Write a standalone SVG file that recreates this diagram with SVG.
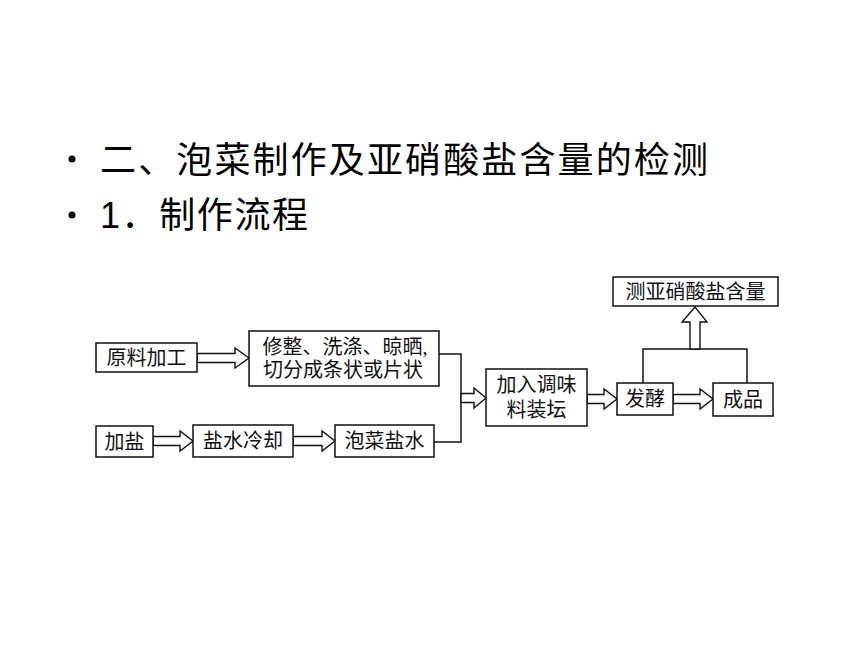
<svg xmlns="http://www.w3.org/2000/svg" width="860" height="645" viewBox="0 0 860 645">
<style>
.title{font-family:"Liberation Sans","Noto Sans CJK SC",sans-serif;font-size:36px;fill:#000}
.box{fill:#fff;stroke:#111;stroke-width:1.5}
.lbl{font-family:"Liberation Serif","Noto Sans CJK SC",serif;font-size:20px;fill:#111;text-anchor:middle;dominant-baseline:central}
.arr{fill:#fff;stroke:#111;stroke-width:1.4;stroke-linejoin:miter}
.ln{fill:none;stroke:#111;stroke-width:1.5}
</style>
<rect width="860" height="645" fill="#fff"/>
<g id="heading">
<circle cx="72" cy="159" r="3.5" fill="#000"/>
<text class="title" x="100" y="173" textLength="608" lengthAdjust="spacing">二、泡菜制作及亚硝酸盐含量的检测</text>
<circle cx="72" cy="215" r="3.5" fill="#000"/>
<text class="title" x="100" y="228" textLength="208" lengthAdjust="spacing">1．制作流程</text>
</g>
<g id="connectors">
<polyline class="ln" points="439,354 461,354 461,442 434,442"/>
<polyline class="ln" points="643,383 643,349 747,349 747,383"/>
<polygon class="arr" points="197,353.5 235,353.5 235,348 249,358 235,368 235,362.5 197,362.5"/>
<polygon class="arr" points="153,436.5 180,436.5 180,431 193,441 180,451 180,445.5 153,445.5"/>
<polygon class="arr" points="293,436.5 322,436.5 322,431 335,441 322,451 322,445.5 293,445.5"/>
<polygon class="arr" points="461,393.5 474,393.5 474,388 486,398 474,408 474,402.5 461,402.5"/>
<polygon class="arr" points="587,394.5 604,394.5 604,389 617,399 604,409 604,403.5 587,403.5"/>
<polygon class="arr" points="673,394.5 700,394.5 700,389 713,399 700,409 700,403.5 673,403.5"/>
<polygon class="arr" points="690,349 690,322 682,322 695,307 707,322 700,322 700,349"/>
</g>
<g id="n1"><rect class="box" x="96" y="343" width="101" height="29"/><text class="lbl" x="146.5" y="358">原料加工</text></g>
<g id="n2"><rect class="box" x="249" y="331" width="190" height="55"/><text class="lbl" x="345" y="347">修整、洗涤、晾晒,</text><text class="lbl" x="343" y="370">切分成条状或片状</text></g>
<g id="n3"><rect class="box" x="96" y="426" width="57" height="31"/><text class="lbl" x="124.5" y="441.5">加盐</text></g>
<g id="n4"><rect class="box" x="193" y="425" width="100" height="32"/><text class="lbl" x="243" y="441">盐水冷却</text></g>
<g id="n5"><rect class="box" x="335" y="425" width="99" height="32"/><text class="lbl" x="384.5" y="441">泡菜盐水</text></g>
<g id="n6"><rect class="box" x="486" y="369" width="101" height="57"/><text class="lbl" x="536.5" y="385">加入调味</text><text class="lbl" x="536.5" y="410">料装坛</text></g>
<g id="n7"><rect class="box" x="617" y="383" width="56" height="32"/><text class="lbl" x="645" y="399">发酵</text></g>
<g id="n8"><rect class="box" x="713" y="383" width="60" height="33"/><text class="lbl" x="743" y="399.5">成品</text></g>
<g id="n9"><rect class="box" x="613" y="277" width="165" height="29"/><text class="lbl" x="695.5" y="291.5">测亚硝酸盐含量</text></g>
</svg>
